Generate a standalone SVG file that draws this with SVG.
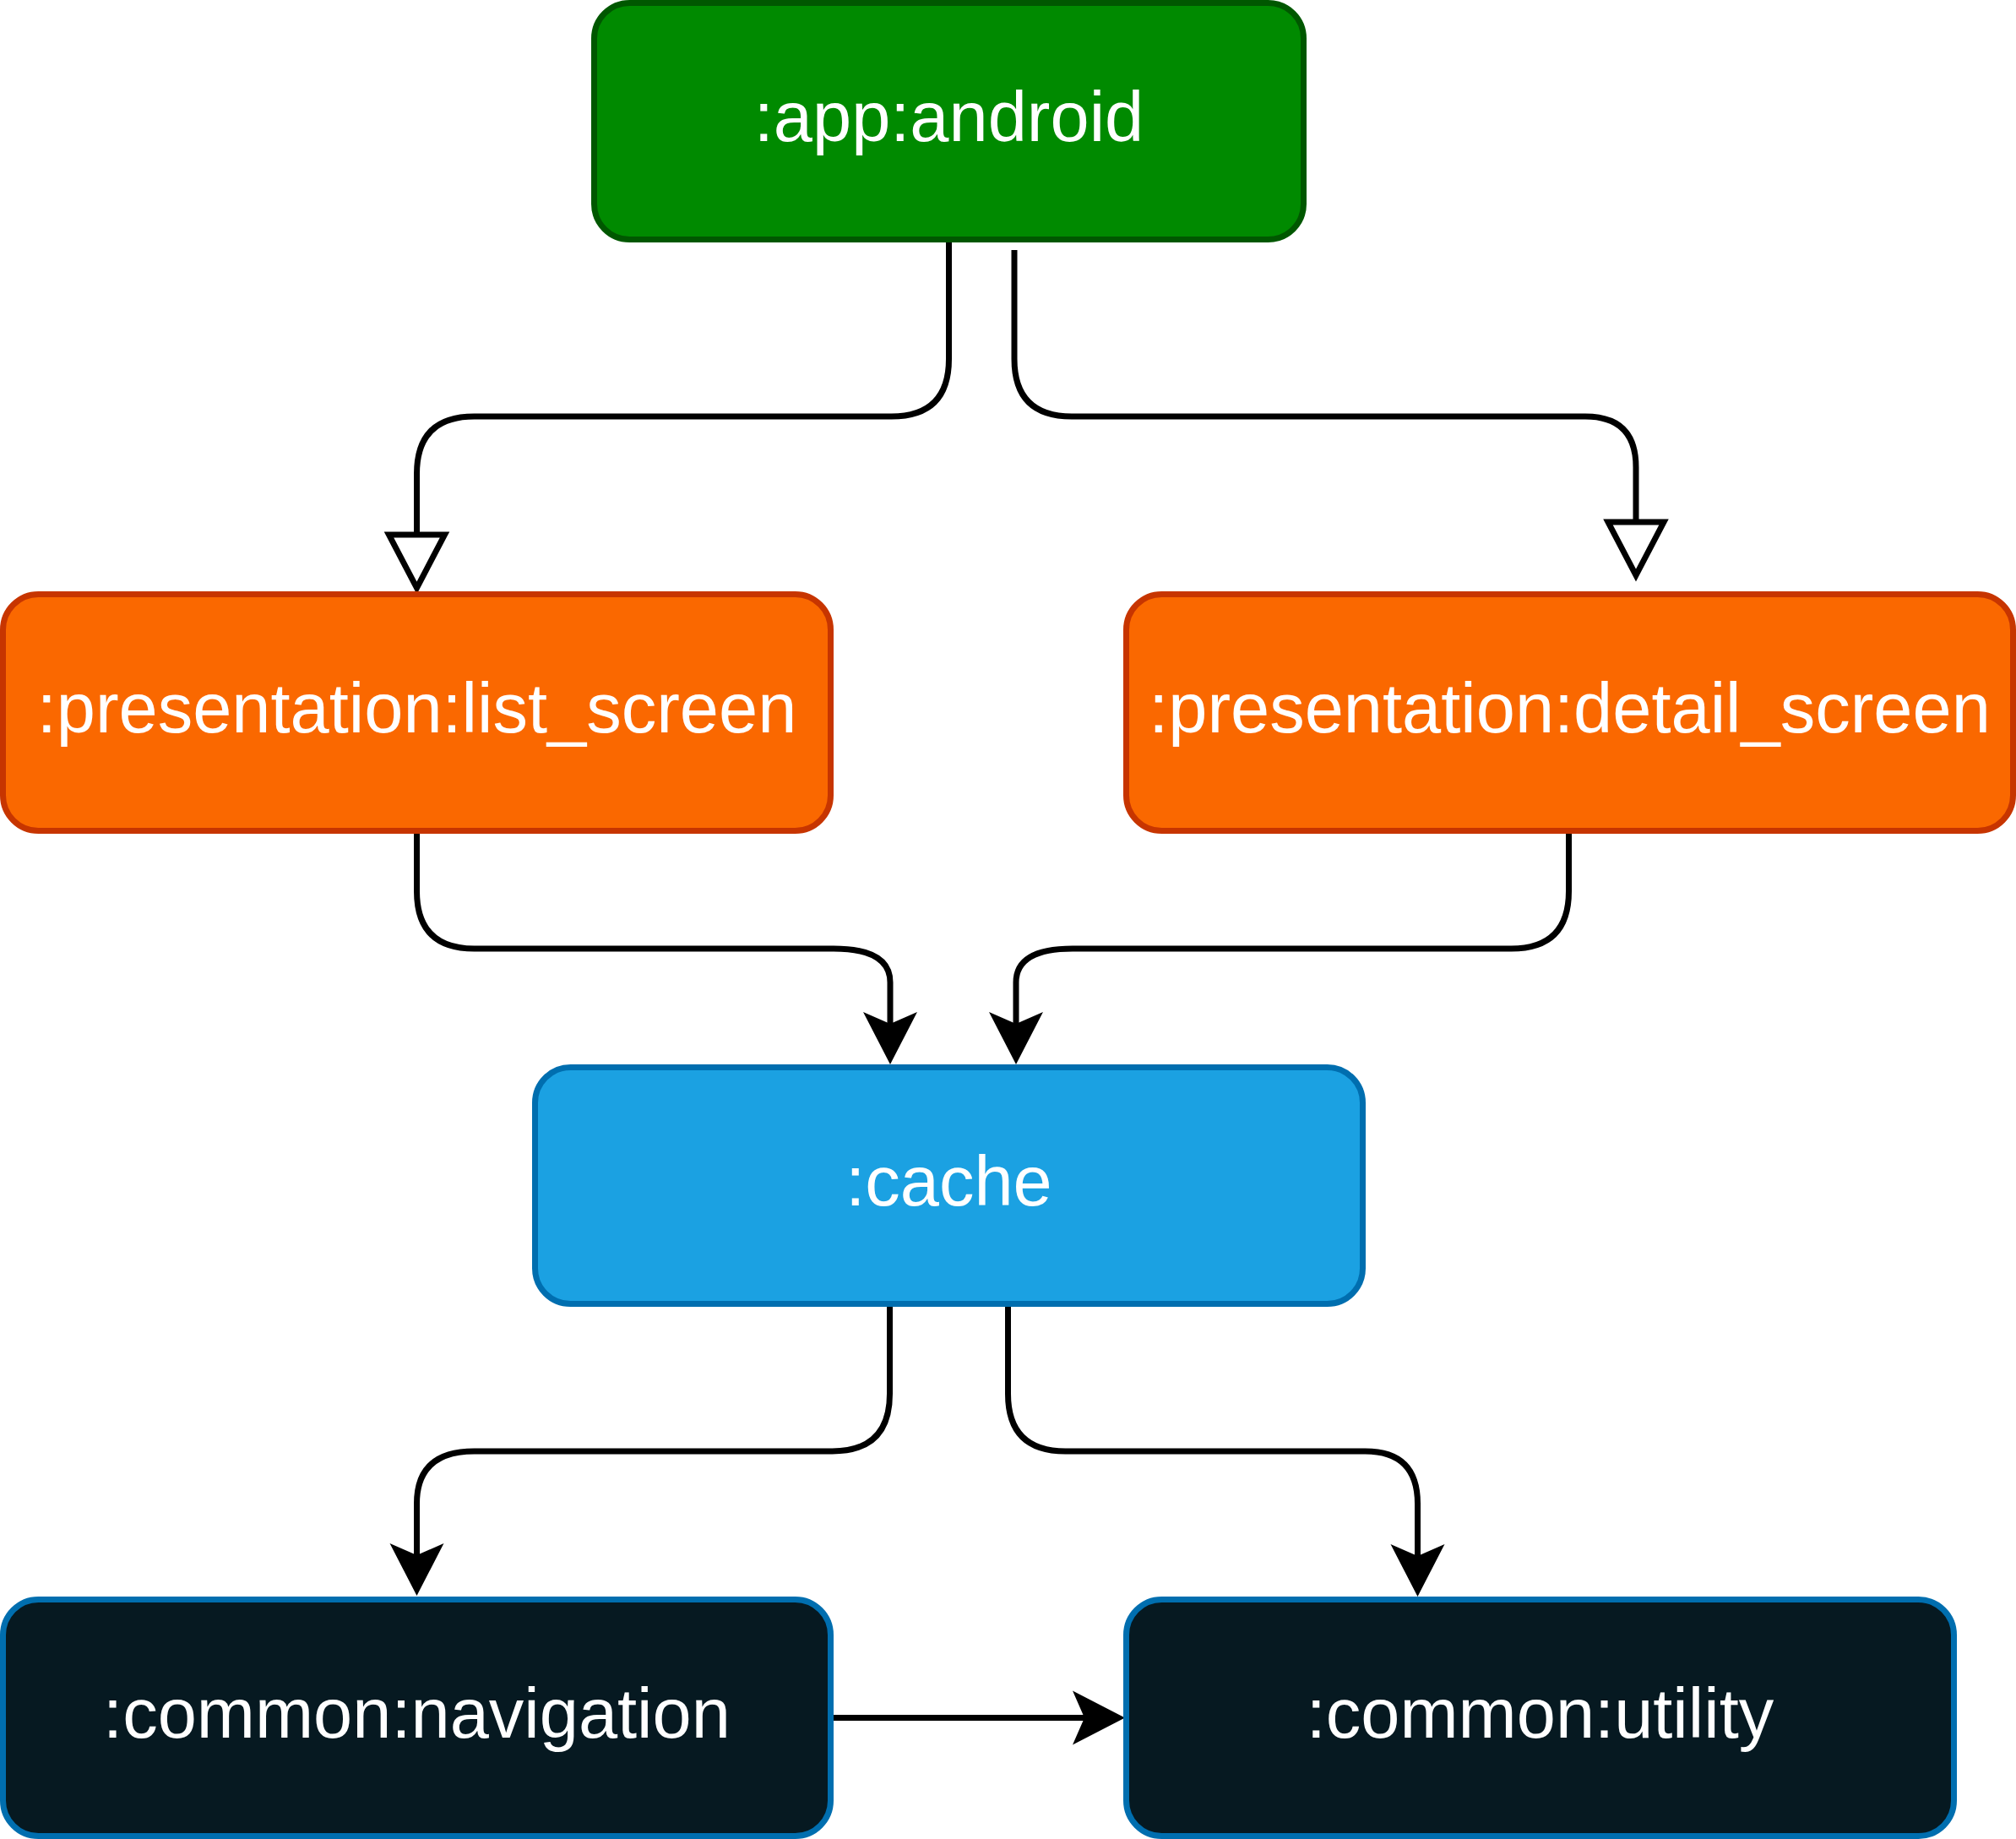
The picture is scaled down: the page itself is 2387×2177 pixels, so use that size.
<svg xmlns="http://www.w3.org/2000/svg" width="2387" height="2177" viewBox="0 0 2387 2177">
<style>
.node rect{stroke-width:7}
.lbl{font-family:"Liberation Sans",Arial,Helvetica,sans-serif;font-size:83px;fill:#FFFFFF;text-anchor:middle}
.green rect{fill:#008A00;stroke:#005700}
.orange rect{fill:#FA6800;stroke:#C73500}
.blue rect{fill:#1BA1E2;stroke:#006EAF}
.dark rect{fill:#061921;stroke:#006EAF}
.edge{fill:none;stroke:#000000;stroke-width:7}
.open{marker-end:url(#blockOpen)}
.classic{marker-end:url(#classic)}
</style>
<defs>
<marker id="classic" markerUnits="userSpaceOnUse" viewBox="-20 -40 80 80" markerWidth="80" markerHeight="80" refX="0" refY="0" orient="auto" overflow="visible">
<path d="M48,0 L-14,-32 L0,0 L-14,32 Z" fill="#000000"/>
</marker>
<marker id="blockOpen" markerUnits="userSpaceOnUse" viewBox="-10 -45 90 90" markerWidth="90" markerHeight="90" refX="0" refY="0" orient="auto" overflow="visible">
<path d="M0,-33 L63,0 L0,33 Z" fill="#FFFFFF" stroke="#000000" stroke-width="7" stroke-linejoin="miter"/>
</marker>
</defs>
<rect width="2387" height="2177" fill="#FFFFFF"/>
<g id="connectors">
<path class="edge open" d="M1123.5 283.5 V425 Q1123.5 493 1055.5 493 H561.5 Q493.5 493 493.5 561 V633"/>
<path class="edge open" d="M1201 296 V425 Q1201 493 1269 493 H1877 Q1937 493 1937 553 V618"/>
<path class="edge classic" d="M493.5 983.5 V1055 Q493.5 1123 561.5 1123 H987 Q1054 1123 1054 1163 V1212"/>
<path class="edge classic" d="M1857.5 983.5 V1055 Q1857.5 1123 1789.5 1123 H1270 Q1203 1123 1203 1163 V1212"/>
<path class="edge classic" d="M1053.5 1543.5 V1650 Q1053.5 1718 985.5 1718 H561.5 Q493.5 1718 493.5 1780 V1841"/>
<path class="edge classic" d="M1193.5 1543.5 V1650 Q1193.5 1718 1261.5 1718 H1616.5 Q1678.5 1718 1678.5 1780 V1842"/>
<path class="edge classic" d="M983.5 2033.5 H1284"/>
</g>
<g id="app_android" class="node green">
<rect x="703.5" y="3.5" width="840" height="280" rx="42" ry="42"/>
<text class="lbl" x="1123.5" y="167">:app:android</text>
</g>
<g id="presentation_list_screen" class="node orange">
<rect x="3.5" y="703.5" width="980" height="280" rx="42" ry="42"/>
<text class="lbl" x="493.5" y="867">:presentation:list_screen</text>
</g>
<g id="presentation_detail_screen" class="node orange">
<rect x="1333.5" y="703.5" width="1050" height="280" rx="42" ry="42"/>
<text class="lbl" x="1858.5" y="867">:presentation:detail_screen</text>
</g>
<g id="cache" class="node blue">
<rect x="633.5" y="1263.5" width="980" height="280" rx="42" ry="42"/>
<text class="lbl" x="1123.5" y="1427">:cache</text>
</g>
<g id="common_navigation" class="node dark">
<rect x="3.5" y="1893.5" width="980" height="280" rx="42" ry="42"/>
<text class="lbl" x="493.5" y="2057">:common:navigation</text>
</g>
<g id="common_utility" class="node dark">
<rect x="1333.5" y="1893.5" width="980" height="280" rx="42" ry="42"/>
<text class="lbl" x="1823.5" y="2057">:common:utility</text>
</g>
</svg>
